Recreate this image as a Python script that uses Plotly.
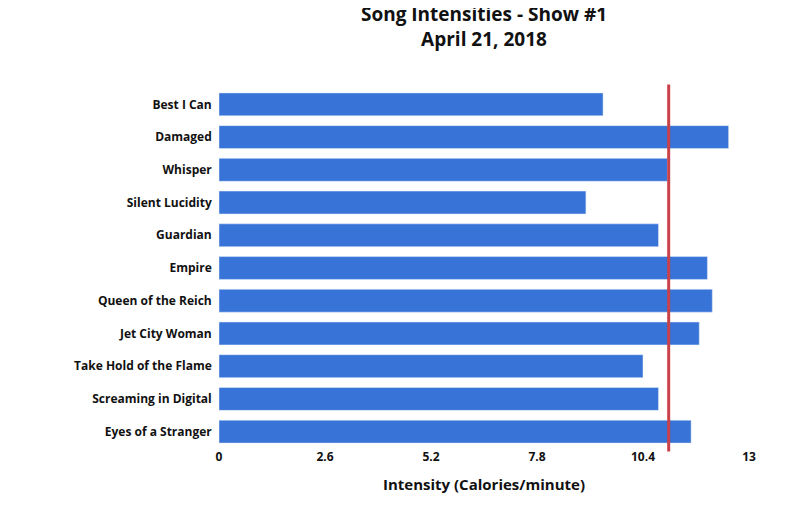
import plotly.graph_objects as go

songs = ["Best I Can", "Damaged", "Whisper", "Silent Lucidity", "Guardian", "Empire",
         "Queen of the Reich", "Jet City Woman", "Take Hold of the Flame",
         "Screaming in Digital", "Eyes of a Stranger"]
intensity = [9.42, 12.5, 11.0, 9.0, 10.78, 11.98, 12.1, 11.78, 10.4, 10.78, 11.58]
average = 11.03
ticks = [0, 2.6, 5.2, 7.8, 10.4, 13]

fig = go.Figure()
fig.add_trace(go.Bar(y=songs, x=intensity, orientation="h", marker_color="#3873d8",
                     showlegend=False, width=0.7))
fig.add_trace(go.Scatter(x=[None], y=[None], mode="lines", name="<b>Average Intensity</b>",
                         line=dict(color="#c9424a", width=3)))
fig.add_shape(type="line", xref="x", yref="paper", x0=average, x1=average, y0=-0.01, y1=1.01,
              line=dict(color="#c9424a", width=3))
fig.update_layout(
    width=800, height=530, plot_bgcolor="white", paper_bgcolor="white",
    font=dict(family="Open Sans", color="#111", size=12),
    title=dict(text="<b>Song Intensities - Show #1<br>April 21, 2018</b>", x=0.595, xanchor="center",
               y=0.975, yanchor="top", font=dict(size=19)),
    margin=dict(l=211, r=59, t=80, b=90, autoexpand=False),
    xaxis=dict(range=[0, 13], tickvals=ticks, ticktext=[f"<b>{t:g}</b>" for t in ticks],
               showgrid=False, zeroline=False, showline=False,
               title=dict(text="<b>Intensity (Calories/minute)</b>", font=dict(size=15))),
    yaxis=dict(autorange="reversed", tickprefix="<b>", ticksuffix="</b>  ", showgrid=False,
               tickfont=dict(size=12)),
    legend=dict(orientation="h", x=0.595, xanchor="center", y=-0.22, yanchor="top",
                font=dict(size=11)),
    bargap=0.3,
)
fig.write_html("out.html")
